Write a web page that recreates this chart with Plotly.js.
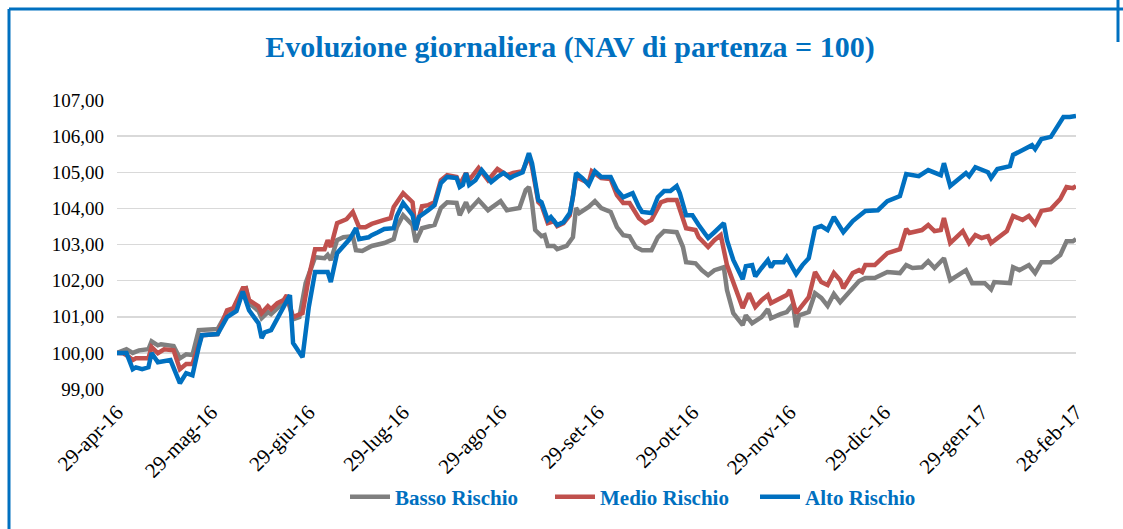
<!DOCTYPE html>
<html>
<head>
<meta charset="utf-8">
<script src="https://cdn.plot.ly/plotly-3.0.1.min.js"></script>
<style>
  html, body { margin: 0; padding: 0; background: #ffffff; }
  #chart { width: 1123px; height: 529px; }
</style>
</head>
<body>
<div id="chart"></div>
<script>
// Day offsets from 29-apr-2016 and NAV values
const startDate = Date.UTC(2016, 3, 29);

const bassoGiorni = [0,3,5,7,10,11,13,14,18,20,22,24,26,32,35,38,40,41,42,45,46,48,49,53,54,56,58,60,63,66,67,68,70,72,75,76,78,81,85,88,89,91,94,95,97,101,103,105,108,109,111,112,115,118,122,124,128,130,131,132,133,135,136,137,139,140,143,145,146,147,150,152,154,157,159,161,163,165,167,170,172,174,178,180,181,184,186,188,190,193,194,196,199,200,202,205,207,208,211,213,215,216,217,220,222,224,226,228,230,232,234,236,238,241,245,249,251,253,256,258,260,263,265,270,272,276,278,279,284,285,287,290,292,294,297,300,302,304,305];
const bassoValori = [100.00,100.10,100.00,100.07,100.10,100.32,100.21,100.24,100.19,99.85,99.96,99.94,100.63,100.66,101.13,101.27,101.76,101.79,101.38,101.16,100.96,101.13,101.07,101.40,101.57,100.93,100.99,101.93,102.65,102.62,102.71,102.57,103.12,103.20,103.23,102.84,102.82,102.96,103.04,103.15,103.48,103.81,103.54,103.07,103.45,103.54,104.01,104.17,104.15,103.81,104.17,103.95,104.23,103.95,104.20,103.95,104.01,104.51,104.59,104.15,103.40,103.23,103.26,102.96,102.96,102.87,102.96,103.20,104.01,103.87,104.04,104.20,104.01,103.90,103.48,103.26,103.23,102.93,102.84,102.84,103.20,103.37,103.34,102.93,102.51,102.48,102.29,102.15,102.29,102.37,101.74,101.10,100.77,101.04,100.82,100.99,101.21,100.96,101.07,101.13,101.35,100.71,101.04,101.13,101.65,101.52,101.30,101.63,101.40,101.60,101.82,101.99,102.07,102.07,102.24,102.21,102.43,102.35,102.37,102.54,102.35,102.62,102.01,102.29,101.93,101.93,101.76,101.96,101.93,102.37,102.29,102.43,102.21,102.51,102.51,102.71,103.09,103.09,103.15];

const medioGiorni = [0,2,4,5,6,10,11,13,15,18,20,22,24,27,32,35,37,40,41,42,45,46,48,49,51,53,54,56,59,61,63,66,67,68,70,73,75,77,79,81,85,87,88,91,94,95,97,99,101,103,105,108,109,111,112,115,118,121,124,126,129,131,132,134,135,137,139,140,142,144,146,150,151,154,157,159,161,163,166,168,170,173,175,178,181,184,185,188,190,192,194,197,199,201,203,205,207,208,211,213,214,216,218,220,222,224,226,228,230,231,234,236,237,238,241,245,249,251,252,256,258,260,262,263,265,269,271,273,275,277,278,280,283,285,288,290,292,294,297,300,302,304,305];
const medioValori = [100.00,99.99,99.88,99.80,99.85,99.85,100.16,99.99,100.10,100.07,99.55,99.69,99.69,100.49,100.52,101.18,101.24,101.79,101.79,101.46,101.29,101.10,101.29,101.21,101.38,101.46,101.60,100.99,101.10,102.10,102.87,102.87,103.12,102.93,103.59,103.70,103.90,103.48,103.48,103.57,103.68,103.73,104.04,104.42,104.17,103.40,104.06,104.09,104.17,104.78,104.92,104.87,104.65,104.98,104.78,105.12,104.78,105.09,104.92,104.98,105.03,105.45,105.14,104.17,104.09,103.59,103.65,103.51,103.59,103.81,104.87,104.70,105.03,104.84,104.81,104.37,104.15,104.15,103.73,103.59,103.68,104.17,104.23,104.23,103.45,103.40,103.20,102.93,103.12,103.26,102.43,101.68,101.24,101.65,101.27,101.46,101.60,101.38,101.52,101.60,101.74,101.10,101.32,101.54,102.24,101.96,101.88,102.21,102.01,101.79,102.21,102.29,102.24,102.43,102.43,102.76,102.87,103.43,103.32,103.40,103.54,103.37,103.40,103.73,103.04,103.37,103.04,103.26,103.18,103.23,103.04,103.18,103.37,103.79,103.68,103.79,103.57,103.93,103.98,104.26,104.59,104.56,104.62];

const altoGiorni = [0,3,5,6,8,10,11,13,17,18,20,22,24,26,27,32,35,38,40,42,45,46,47,49,52,53,55,56,59,61,63,67,68,70,74,76,77,80,81,83,85,88,89,91,92,94,95,96,99,101,103,105,108,109,110,111,112,114,116,119,121,123,125,126,129,131,132,134,135,137,138,140,142,144,145,146,148,150,152,154,157,159,161,164,166,167,170,172,174,176,178,179,181,183,185,188,190,193,194,196,199,200,202,203,205,207,208,209,212,213,216,218,220,222,224,226,228,231,234,238,242,245,249,251,255,258,262,263,265,270,271,273,277,278,280,284,285,288,291,292,294,297,301,303,305];
const altoValori = [100.00,100.00,99.55,99.60,99.55,99.60,100.00,99.74,99.80,99.60,99.16,99.44,99.38,100.16,100.49,100.52,100.99,101.16,101.70,101.18,100.82,100.41,100.57,100.63,101.10,101.24,101.60,100.27,99.88,101.27,102.24,102.24,101.96,102.76,103.15,103.45,103.15,103.20,103.26,103.34,103.43,103.45,103.79,104.15,104.04,103.81,103.40,103.76,103.95,104.09,104.70,104.87,104.84,104.59,104.65,104.98,104.65,104.78,105.06,104.73,104.87,104.98,104.84,104.89,105.00,105.53,105.25,104.23,104.17,103.68,103.76,103.54,103.62,103.87,104.31,104.98,104.84,104.65,105.03,104.87,104.87,104.51,104.31,104.42,104.04,103.90,103.87,104.31,104.48,104.48,104.62,104.42,103.81,103.81,103.54,103.18,103.34,103.59,103.12,102.57,102.04,102.40,102.43,102.12,102.35,102.57,102.37,102.51,102.51,102.65,102.18,102.43,102.62,103.45,103.51,103.40,103.76,103.34,103.65,103.93,103.95,104.20,104.34,104.95,104.89,105.06,104.92,105.25,104.62,104.98,104.89,105.14,105.00,104.84,105.09,105.17,105.48,105.61,105.75,105.64,105.92,105.98,106.53,106.53,106.56];

const tickDate = ['2016-04-29','2016-05-29','2016-06-29','2016-07-29','2016-08-29','2016-09-29','2016-10-29','2016-11-29','2016-12-29','2017-01-29','2017-02-28'];
const tickLabel = ['29-apr-16','29-mag-16','29-giu-16','29-lug-16','29-ago-16','29-set-16','29-ott-16','29-nov-16','29-dic-16','29-gen-17','28-feb-17'];
const yTicks = [99,100,101,102,103,104,105,106,107];

const serieNomi = ['Basso Rischio','Medio Rischio','Alto Rischio'];
const serieColori = ['#7F7F7F','#C0504D','#0070C0'];

function toDate(d) {
  return new Date(startDate + d * 864e5).toISOString().slice(0, 10);
}

const giorni = [bassoGiorni, medioGiorni, altoGiorni];
const valori = [bassoValori, medioValori, altoValori];

const traces = serieNomi.map((nome, i) => ({
  type: 'scatter',
  mode: 'lines',
  name: nome,
  x: giorni[i].map(toDate),
  y: valori[i],
  line: { color: serieColori[i], width: 4.5, shape: 'linear' },
  hoverinfo: 'skip'
}));

const SERIF = '"Liberation Serif", "Times New Roman", "DejaVu Serif", serif';
const W = 1123, H = 529;
const L = 117, R = 47, T = 100, B = 140;
const pw = W - L - R, ph = H - T - B;
function px2x(px) { return (px - L) / pw; }
function py2y(py) { return (H - B - py) / ph; }

const layout = {
  width: W,
  height: H,
  margin: { l: L, r: R, t: T, b: B, pad: 0 },
  paper_bgcolor: '#ffffff',
  plot_bgcolor: '#ffffff',
  separators: ',.',
  showlegend: true,
  title: {
    text: 'Evoluzione giornaliera (NAV di partenza = 100)',
    font: { family: SERIF, size: 30, color: '#0070C0', weight: 'bold' },
    x: 570 / W, xanchor: 'center', xref: 'container',
    y: 1 - 46 / H, yanchor: 'middle', yref: 'container'
  },
  xaxis: {
    type: 'date',
    range: ['2016-04-29', '2017-02-28'],
    tickmode: 'array',
    tickvals: tickDate,
    ticktext: tickLabel,
    tickangle: -45,
    ticks: '',
    ticklabelstandoff: 6,
    showgrid: false,
    zeroline: false,
    showline: false,
    tickfont: { family: SERIF, size: 21, color: '#000000' },
    fixedrange: true
  },
  yaxis: {
    range: [99, 107],
    tickmode: 'array',
    tickvals: yTicks,
    tickformat: '.2f',
    ticks: '',
    ticklabelstandoff: 12,
    showgrid: true,
    gridcolor: '#D9D9D9',
    gridwidth: 1.5,
    zeroline: false,
    showline: false,
    tickfont: { family: SERIF, size: 19, color: '#000000' },
    fixedrange: true
  },
  legend: {
    orientation: 'h',
    x: px2x(345),
    xanchor: 'left',
    y: py2y(497),
    yanchor: 'middle',
    font: { family: SERIF, size: 21, color: '#0070C0', weight: 'bold' },
    itemwidth: 40,
    entrywidth: 150,
    tracegroupgap: 0,
    bgcolor: 'rgba(0,0,0,0)'
  },
  shapes: [
    { type: 'line', xref: 'paper', yref: 'paper',
      x0: px2x(9), x1: px2x(1130), y0: py2y(9), y1: py2y(9),
      line: { color: '#0070C0', width: 3 } },
    { type: 'line', xref: 'paper', yref: 'paper',
      x0: px2x(9), x1: px2x(9), y0: py2y(9), y1: py2y(560),
      line: { color: '#0070C0', width: 3 } },
    { type: 'line', xref: 'paper', yref: 'paper',
      x0: px2x(1118), x1: px2x(1118), y0: py2y(0), y1: py2y(42),
      line: { color: '#0070C0', width: 3 } }
  ]
};

Plotly.newPlot('chart', traces, layout, { displayModeBar: false, staticPlot: true });
</script>
</body>
</html>
